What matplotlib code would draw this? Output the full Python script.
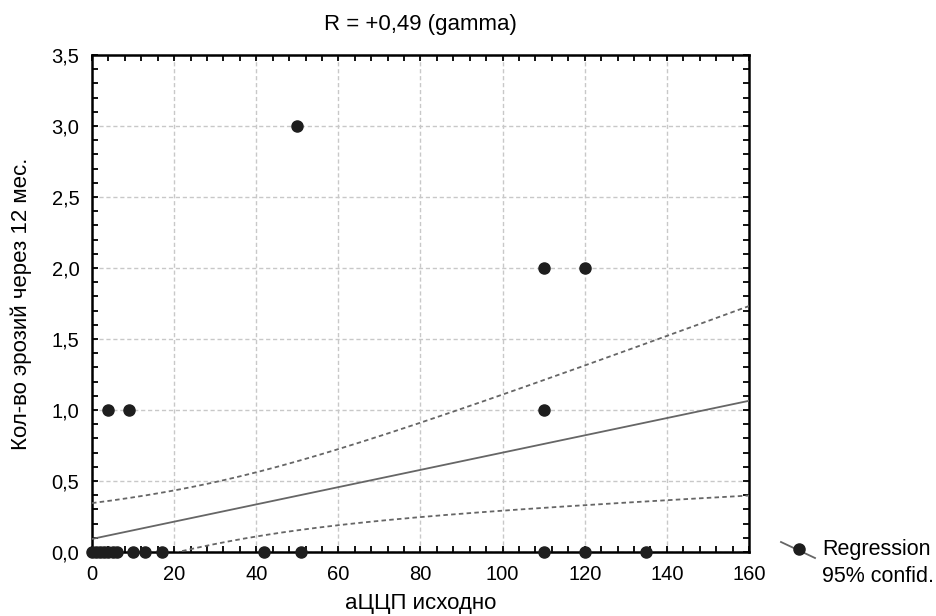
import numpy as np
import matplotlib
matplotlib.use("Agg")
import matplotlib.pyplot as plt
from matplotlib.lines import Line2D
from matplotlib.ticker import MultipleLocator, FuncFormatter

plt.rcParams['font.family'] = ['Liberation Sans Narrow', 'Liberation Sans', 'DejaVu Sans']

# Points
x_pts = [0, 1, 2, 3, 4, 5, 6, 10, 13, 17, 42, 51, 110, 120, 135,
         4, 9, 110,
         110, 120,
         50]
y_pts = [0, 0, 0, 0, 0, 0, 0, 0, 0, 0, 0, 0, 0, 0, 0,
         1, 1, 1,
         2, 2,
         3]

# Droite de régression et bande de confiance 95 % (paramètres lus)
fit_intercept = 0.092
fit_slope = 0.00608
band_a = 0.0473
band_b = 2.25e-5
band_x0 = 27.0

title = "R = +0,49 (gamma)"
xlabel = "аЦЦП исходно"
ylabel = "Кол-во эрозий через 12 мес."
legend_labels = ["Regression", "95% confid."]

fig = plt.figure(figsize=(9.36, 6.16), dpi=100)
ax = fig.add_axes([92/936, 1 - 552/616, (749 - 92)/936, (552 - 55)/616])

xx = np.linspace(0, 160, 300)
fit = fit_intercept + fit_slope * xx
half = np.sqrt(band_a + band_b * (xx - band_x0) ** 2)

ax.plot(xx, fit, color="#666666", lw=1.3, zorder=3)
ax.plot(xx, fit + half, color="#666666", lw=1.3, ls=(0, (2.5, 1.8)), zorder=3)
ax.plot(xx, fit - half, color="#666666", lw=1.3, ls=(0, (2.5, 1.8)), zorder=3)
ax.plot(x_pts, y_pts, "o", color="#1e1e1e", ms=8, clip_on=False, zorder=4)

ax.set_xlim(0, 160)
ax.set_ylim(0, 3.5)
ax.xaxis.set_major_locator(MultipleLocator(20))
ax.xaxis.set_minor_locator(MultipleLocator(4))
ax.yaxis.set_major_locator(MultipleLocator(0.5))
ax.yaxis.set_minor_locator(MultipleLocator(0.1))
ax.yaxis.set_major_formatter(FuncFormatter(lambda v, p: f"{v:.1f}".replace(".", ",")))

ax.tick_params(which="both", direction="in", top=True, right=True, width=1.3, labelsize=14.5)
ax.tick_params(which="major", length=4, pad=9)
ax.tick_params(which="minor", length=4)
for s in ax.spines.values():
    s.set_linewidth(1.8)

ax.grid(True, which="major", color="#c8c8c8", ls=(0, (3, 2)), lw=1)

ax.set_title(title, fontsize=16, pad=18)
ax.set_xlabel(xlabel, fontsize=16, labelpad=7)
ax.set_ylabel(ylabel, fontsize=16, labelpad=14)

# Légende hors du cadre
fig.add_artist(Line2D([781/936, 815/936], [1 - 542/616, 1 - 558/616],
                      color="#666666", lw=1.3, transform=fig.transFigure))
fig.add_artist(Line2D([799/936], [1 - 549/616], marker="o", color="#1e1e1e",
                      ms=8, transform=fig.transFigure))
fig.text(822/936, 1 - 550/616, legend_labels[0], fontsize=15.5, va="center")
fig.text(822/936, 1 - 576/616, legend_labels[1], fontsize=15.5, va="center")

fig.savefig("out.png", dpi=100)
